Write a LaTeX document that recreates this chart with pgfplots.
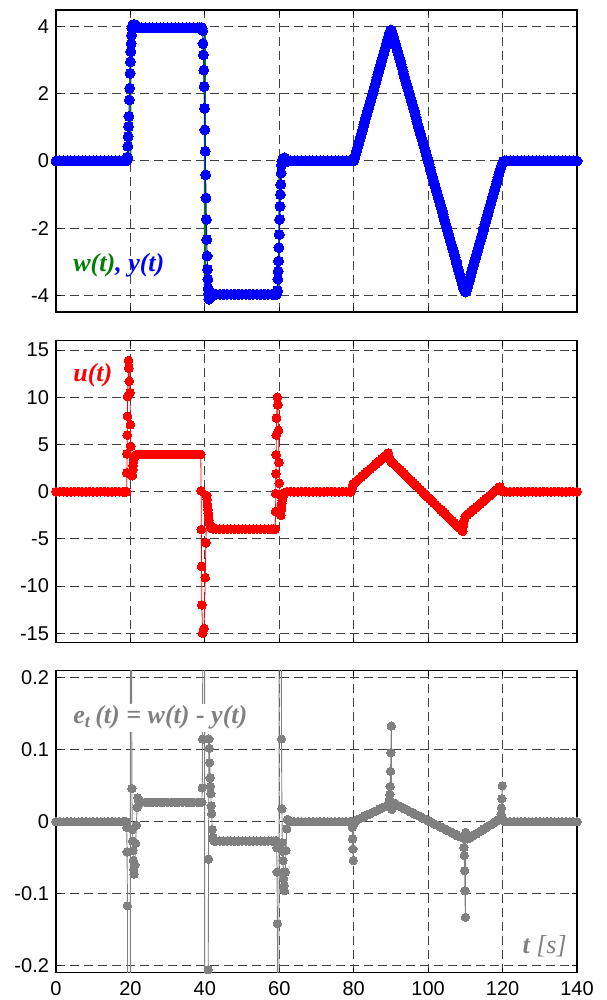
\documentclass[border=0pt]{standalone}
\usepackage{fontspec}
\setmainfont{Liberation Sans}
\newfontfamily\labfont{Liberation Serif}
\usepackage{pgfplots}
\pgfplotsset{compat=1.18}

\definecolor{mblue}{RGB}{0,0,255}
\definecolor{mred}{RGB}{255,0,0}
\definecolor{mgreen}{RGB}{0,128,0}
\definecolor{mgray}{RGB}{128,128,128}

\pgfplotsset{
  panel/.style={
    scale only axis, width=260.5pt, height=151pt,
    anchor=south west,
    xmin=0, xmax=140, xtick={0,20,40,60,80,100,120,140},
    grid=major,
    major grid style={black!75, line width=0.5pt, dash pattern=on 4.5pt off 2.5pt},
    axis line style={line width=0.7pt},
    tick align=inside, major tick length=2.5pt,
    tick style={black, line width=0.5pt},
    tick label style={font=\fontsize{10}{12}\selectfont},
    xticklabel style={yshift=-1pt},
  },
}
\tikzset{lab/.style={font=\labfont\fontsize{13}{15}\selectfont\bfseries\itshape, inner sep=0pt}}

\begin{document}
\begin{tikzpicture}
\path[use as bounding box] (0,0) rectangle (303pt,500pt);

% ---------- top: w(t), y(t)
\begin{axis}[panel, at={(28pt,344pt)},
  ymin=-4.5, ymax=4.5, ytick={-4,-2,0,2,4}, yticklabels={-4,-2,0,2,4},
  xticklabels={}, clip mode=individual]
\addplot[mgreen, line width=0.9pt, no marks] coordinates {
(0,0)(20,0)(20,4)(40,4)(40,-4)(60,-4)(60,0)(80,0)(90,4)(110,-4)(120,0)(140,0)};
\addplot[mblue, line width=0.5pt, mark=*, mark size=2.5pt, mark options={fill=mblue, draw=mblue, line width=0pt}] coordinates {
(0,0)(1,0)(2,0)(3,0)(4,0)(5,0)(6,0)(7,0)(8,0)(9,0)(10,0)(11,0)(12,0)(13,0)(14,0)(15,0)(16,0)(17,0)(18,0)(18.5,0)
(19.0,0.008)(19.1,0.042)(19.2,0.117)(19.3,0.44)(19.4,0.73)(19.5,1.03)(19.6,1.33)(19.7,1.82)(19.8,2.17)(19.9,2.61)
(20.0,2.96)(20.1,3.26)(20.2,3.50)(20.3,3.75)(20.4,3.954)(20.5,4.011)(20.6,4.027)(20.7,4.040)(20.8,4.054)(20.9,4.066)
(21.0,4.073)(21.2,4.060)(21.4,4.030)(21.6,4.005)(21.8,3.980)(22.0,3.967)(22.3,3.972)
(23,3.973)(24,3.973)(25,3.973)(26,3.973)(27,3.973)(28,3.973)(29,3.973)(30,3.973)(31,3.973)(32,3.973)
(33,3.973)(34,3.973)(35,3.973)(36,3.973)(37,3.973)(38,3.973)(38.5,3.973)(39.0,3.973)
(39.2,3.973)(39.3,3.953)(39.4,3.885)(39.5,3.50)(39.6,3.16)(39.7,2.71)(39.8,2.22)(39.9,1.57)
(40.0,0.93)(40.1,0.29)(40.2,-0.41)(40.3,-1.10)(40.4,-1.74)(40.5,-2.34)(40.6,-2.83)(40.7,-3.23)(40.8,-3.52)(40.9,-3.794)
(41.0,-3.948)(41.1,-4.115)(41.2,-4.102)(41.3,-4.082)(41.4,-4.061)(41.5,-4.049)(41.6,-4.039)(41.7,-4.022)(41.8,-4.011)
(42.0,-3.989)(42.2,-3.978)(42.5,-3.973)
(43,-3.973)(44,-3.973)(45,-3.973)(46,-3.973)(47,-3.973)(48,-3.973)(49,-3.973)(50,-3.973)(51,-3.973)(52,-3.973)
(53,-3.973)(54,-3.973)(55,-3.973)(56,-3.973)(57,-3.973)(58,-3.973)(58.5,-3.973)(59.0,-3.973)
(59.2,-3.973)(59.3,-3.964)(59.4,-3.930)(59.5,-3.858)(59.6,-3.52)(59.7,-3.28)(59.8,-2.98)(59.9,-2.58)
(60.0,-2.19)(60.1,-1.74)(60.2,-1.35)(60.3,-1.00)(60.4,-0.70)(60.5,-0.36)(60.6,-0.115)(60.7,-0.018)(60.8,0.029)(60.9,0.041)
(61.0,0.054)(61.1,0.070)(61.2,0.079)(61.3,0.089)(61.4,0.096)(61.6,0.070)(61.8,0.040)(62.0,0.010)(62.2,-0.003)(62.5,-0.002)
(63,0)(64,0)(65,0)(66,0)(67,0)(68,0)(69,0)(70,0)(71,0)(72,0)(73,0)(74,0)(75,0)(76,0)(77,0)(78,0)(79,0)(79.5,0)
(79.6,0.008)(79.7,0.024)(79.8,0.038)(79.9,0.054)(80,0.003)
(80.25,0.10)(80.5,0.20)(80.75,0.30)(81,0.40)(81.25,0.50)(81.5,0.60)(81.75,0.70)(82,0.80)(82.25,0.89)(82.5,0.99)
(82.75,1.09)(83,1.19)(83.25,1.29)(83.5,1.39)(83.75,1.49)(84,1.59)(84.25,1.69)(84.5,1.79)(84.75,1.89)(85,1.99)
(85.25,2.09)(85.5,2.19)(85.75,2.29)(86,2.39)(86.25,2.48)(86.5,2.58)(86.75,2.68)(87,2.78)(87.25,2.88)(87.5,2.98)
(87.75,3.08)(88,3.18)(88.25,3.28)(88.5,3.38)(88.75,3.48)(89,3.58)(89.25,3.68)(89.5,3.78)
(89.75,3.86)(90,3.90)(90.25,3.87)(90.5,3.77)
(90.75,3.68)(91,3.58)(91.25,3.48)(91.5,3.38)(91.75,3.28)(92,3.18)(92.25,3.08)(92.5,2.98)(92.75,2.88)(93,2.78)
(93.25,2.68)(93.5,2.58)(93.75,2.48)(94,2.38)(94.25,2.28)(94.5,2.19)(94.75,2.09)(95,1.99)(95.25,1.89)(95.5,1.79)
(95.75,1.69)(96,1.59)(96.25,1.49)(96.5,1.39)(96.75,1.29)(97,1.19)(97.25,1.09)(97.5,0.99)(97.75,0.89)(98,0.79)
(98.25,0.69)(98.5,0.60)(98.75,0.50)(99,0.40)(99.25,0.30)(99.5,0.20)(99.75,0.10)(100,0.00)
(100.25,-0.10)(100.5,-0.20)(100.75,-0.30)(101,-0.40)(101.25,-0.50)(101.5,-0.60)(101.75,-0.70)(102,-0.80)(102.25,-0.89)(102.5,-0.99)
(102.75,-1.09)(103,-1.19)(103.25,-1.29)(103.5,-1.39)(103.75,-1.49)(104,-1.59)(104.25,-1.69)(104.5,-1.79)(104.75,-1.89)(105,-1.99)
(105.25,-2.09)(105.5,-2.19)(105.75,-2.29)(106,-2.39)(106.25,-2.49)(106.5,-2.58)(106.75,-2.68)(107,-2.78)(107.25,-2.88)(107.5,-2.98)
(107.75,-3.08)(108,-3.18)(108.25,-3.28)(108.5,-3.38)(108.75,-3.48)(109,-3.58)(109.25,-3.68)
(109.5,-3.78)(109.75,-3.84)(110,-3.90)(110.25,-3.88)
(110.5,-3.78)(110.75,-3.68)(111,-3.58)(111.25,-3.48)(111.5,-3.38)(111.75,-3.28)(112,-3.18)(112.25,-3.08)(112.5,-2.98)(112.75,-2.88)
(113,-2.78)(113.25,-2.68)(113.5,-2.58)(113.75,-2.48)(114,-2.39)(114.25,-2.29)(114.5,-2.19)(114.75,-2.09)(115,-1.99)(115.25,-1.89)
(115.5,-1.79)(115.75,-1.69)(116,-1.59)(116.25,-1.49)(116.5,-1.39)(116.75,-1.29)(117,-1.19)(117.25,-1.09)(117.5,-0.99)(117.75,-0.89)
(118,-0.79)(118.25,-0.70)(118.5,-0.60)(118.75,-0.50)(119,-0.40)(119.25,-0.30)
(119.5,-0.21)(119.75,-0.12)(120,-0.05)(120.25,-0.005)(120.5,0)
(121,0)(122,0)(123,0)(124,0)(125,0)(126,0)(127,0)(128,0)(129,0)(130,0)(131,0)(132,0)(133,0)(134,0)(135,0)
(136,0)(137,0)(138,0)(139,0)(140,0)};
\node[lab, anchor=west] at (rel axis cs:0.0326,0.156)
  {\textcolor{mgreen}{w(t)}\textcolor{mblue}{, y(t)}};
\end{axis}

% ---------- middle: u(t)
\begin{axis}[panel, at={(28pt,178.65pt)},
  ymin=-16, ymax=16, ytick={-15,-10,-5,0,5,10,15}, yticklabels={-15,-10,-5,0,5,10,15},
  xticklabels={}, clip mode=individual]
\addplot[mred, line width=0.4pt, mark=*, mark size=2.2pt, mark options={fill=mred, draw=mred, line width=0pt}] coordinates {
(0,0)(1,0)(2,0)(3,0)(4,0)(5,0)(6,0)(7,0)(8,0)(9,0)(10,0)(11,0)(12,0)(13,0)(14,0)(15,0)(16,0)(17,0)(18,0)(18.5,0)(19,0)
(19.05,2.0)(19.1,4.0)(19.15,6.0)(19.2,8.0)(19.25,10.1)(19.5,13.9)(19.6,13.1)(19.7,11.7)(19.9,10.5)(20.0,7.1)(20.1,4.8)
(20.3,2.0)(20.5,1.7)(20.6,2.3)(20.7,2.8)(20.8,3.2)(20.9,3.5)(21.0,3.7)(21.3,3.85)(21.7,3.92)(22,3.95)
(23,3.95)(24,3.95)(25,3.95)(26,3.95)(27,3.95)(28,3.95)(29,3.95)(30,3.95)(31,3.95)(32,3.95)(33,3.95)(34,3.95)
(35,3.95)(36,3.95)(37,3.95)(38,3.95)(38.5,3.95)(38.9,3.95)
(39.0,0.1)(39.05,-4.0)(39.1,-7.9)(39.2,-12.0)(39.4,-15.0)(39.8,-14.5)(40.1,-9.1)(40.3,-5.4)
(40.5,-0.4)(40.6,-0.8)(40.7,-1.4)(40.8,-1.9)(40.9,-2.3)(41.0,-2.7)(41.1,-3.0)(41.3,-3.4)(41.5,-3.7)(41.8,-3.9)(42.2,-3.95)
(43,-3.95)(44,-3.95)(45,-3.95)(46,-3.95)(47,-3.95)(48,-3.95)(49,-3.95)(50,-3.95)(51,-3.95)(52,-3.95)(53,-3.95)
(54,-3.95)(55,-3.95)(56,-3.95)(57,-3.95)(58,-3.95)(58.5,-3.95)(58.9,-3.95)
(59.0,-2.1)(59.05,-0.2)(59.1,1.9)(59.15,3.9)(59.2,6.0)(59.25,7.8)(59.5,10.0)(59.6,9.2)(59.8,6.5)(59.9,3.1)(60.0,0.9)
(60.2,-0.3)(60.3,-2.2)(60.4,-2.5)(60.5,-2.0)(60.6,-1.6)(60.7,-1.2)(60.8,-0.9)(60.9,-0.6)(61.0,-0.4)(61.2,-0.2)(61.5,-0.1)(62,0)
(63,0)(64,0)(65,0)(66,0)(67,0)(68,0)(69,0)(70,0)(71,0)(72,0)(73,0)(74,0)(75,0)(76,0)(77,0)(78,0)(79,0)(79.3,0)
(79.5,0.3)(79.7,0.7)(80,0.85)(80.5,1.03)(81,1.20)(81.5,1.38)(82,1.55)(82.5,1.73)(83,1.90)(83.5,2.08)(84,2.25)
(84.5,2.43)(85,2.60)(85.5,2.78)(86,2.95)(86.5,3.13)(87,3.30)(87.5,3.48)(88,3.65)(88.5,3.83)(89,4.00)(89.3,4.10)
(89.5,3.75)(89.7,3.40)(90,3.20)(90.5,3.06)(91,2.87)(91.5,2.67)(92,2.48)(92.5,2.29)(93,2.10)(93.5,1.90)(94,1.71)
(94.5,1.52)(95,1.33)(95.5,1.13)(96,0.94)(96.5,0.75)(97,0.56)(97.5,0.36)(98,0.17)(98.5,-0.02)(99,-0.22)(99.5,-0.41)
(100,-0.60)(100.5,-0.79)(101,-0.99)(101.5,-1.18)(102,-1.37)(102.5,-1.56)(103,-1.76)(103.5,-1.95)(104,-2.14)(104.5,-2.33)
(105,-2.53)(105.5,-2.72)(106,-2.91)(106.5,-3.10)(107,-3.30)(107.5,-3.49)(108,-3.68)(108.5,-3.87)(109,-4.07)(109.3,-4.18)
(109.5,-3.60)(109.7,-3.00)(110,-2.62)(110.5,-2.45)(111,-2.28)(111.5,-2.11)(112,-1.95)(112.5,-1.78)(113,-1.61)(113.5,-1.44)
(114,-1.28)(114.5,-1.11)(115,-0.94)(115.5,-0.77)(116,-0.60)(116.5,-0.44)(117,-0.27)(117.5,-0.10)(118,0.07)(118.5,0.23)
(119,0.40)(119.3,0.50)(119.5,0.35)(119.7,0.15)(120,0.03)(120.5,0)
(121,0)(122,0)(123,0)(124,0)(125,0)(126,0)(127,0)(128,0)(129,0)(130,0)(131,0)(132,0)(133,0)(134,0)(135,0)
(136,0)(137,0)(138,0)(139,0)(140,0)};
\node[lab, anchor=west, text=mred] at (rel axis cs:0.0326,0.886) {u(t)};
\end{axis}

% ---------- bottom: e_t(t)
\begin{axis}[panel, at={(28pt,13.65pt)},
  ymin=-0.21, ymax=0.21, ytick={-0.2,-0.1,0,0.1,0.2}, yticklabels={-0.2,-0.1,0,0.1,0.2},
  xticklabels={0,20,40,60,80,100,120,140}]
\addplot[mgray, line width=0.45pt, mark=*, mark size=2.1pt, mark options={fill=mgray, draw=mgray, line width=0pt}] coordinates {
(0,0)(1,0)(2,0)(3,0)(4,0)(5,0)(6,0)(7,0)(8,0)(9,0)(10,0)(11,0)(12,0)(13,0)(14,0)(15,0)(16,0)(17,0)(18,0)(18.5,0)(18.9,0)
(19.0,-0.008)(19.1,-0.042)(19.2,-0.117)(19.3,-0.44)(19.4,-0.73)(19.5,-1.03)(19.6,-1.33)(19.7,-1.82)(19.8,-2.17)(19.9,-2.61)
(20.0,1.04)(20.1,0.74)(20.2,0.50)(20.3,0.25)(20.4,0.046)(20.5,-0.011)(20.6,-0.027)(20.7,-0.040)(20.8,-0.054)(20.9,-0.066)
(21.0,-0.073)(21.2,-0.060)(21.4,-0.030)(21.6,-0.005)(21.8,0.020)(22.0,0.033)(22.3,0.028)
(23,0.027)(24,0.027)(25,0.027)(26,0.027)(27,0.027)(28,0.027)(29,0.027)(30,0.027)(31,0.027)(32,0.027)(33,0.027)
(34,0.027)(35,0.027)(36,0.027)(37,0.027)(38,0.027)(38.5,0.027)(39.0,0.027)
(39.2,0.027)(39.3,0.047)(39.4,0.115)(39.5,0.50)(39.6,0.84)(39.7,1.29)(39.8,1.78)(39.9,2.43)
(40.0,-4.93)(40.1,-4.29)(40.2,-3.59)(40.3,-2.90)(40.4,-2.26)(40.5,-1.66)(40.6,-1.17)(40.7,-0.77)(40.8,-0.48)(40.9,-0.206)
(41.0,-0.052)(41.1,0.115)(41.2,0.102)(41.3,0.082)(41.4,0.061)(41.5,0.049)(41.6,0.039)(41.7,0.022)(41.8,0.011)
(42.0,-0.011)(42.2,-0.022)(42.5,-0.027)
(43,-0.027)(44,-0.027)(45,-0.027)(46,-0.027)(47,-0.027)(48,-0.027)(49,-0.027)(50,-0.027)(51,-0.027)(52,-0.027)
(53,-0.027)(54,-0.027)(55,-0.027)(56,-0.027)(57,-0.027)(58,-0.027)(58.5,-0.027)(59.0,-0.027)
(59.2,-0.027)(59.3,-0.036)(59.4,-0.070)(59.5,-0.142)(59.6,-0.48)(59.7,-0.72)(59.8,-1.02)(59.9,-1.42)
(60.0,2.19)(60.1,1.74)(60.2,1.35)(60.3,1.00)(60.4,0.70)(60.5,0.36)(60.6,0.115)(60.7,0.018)(60.8,-0.029)(60.9,-0.041)
(61.0,-0.054)(61.1,-0.070)(61.2,-0.079)(61.3,-0.089)(61.4,-0.096)(61.6,-0.070)(61.8,-0.040)(62.0,-0.010)(62.2,0.003)(62.5,0.002)
(63,0)(64,0)(65,0)(66,0)(67,0)(68,0)(69,0)(70,0)(71,0)(72,0)(73,0)(74,0)(75,0)(76,0)(77,0)(78,0)(79,0)(79.5,0)
(79.6,-0.008)(79.7,-0.024)(79.8,-0.038)(79.9,-0.054)(80,-0.003)
(80.5,0.001)(81,0.003)(81.5,0.004)(82,0.005)(82.5,0.006)(83,0.008)(83.5,0.009)(84,0.010)(84.5,0.011)(85,0.013)
(85.5,0.014)(86,0.015)(86.5,0.016)(87,0.018)(87.5,0.019)(88,0.020)(88.5,0.021)(89,0.023)(89.5,0.024)
(89.6,0.031)(89.7,0.038)(89.8,0.049)(89.9,0.070)(90.0,0.096)(90.1,0.133)(90.2,0.017)(90.4,0.022)(90.7,0.026)
(91,0.025)(91.5,0.023)(92,0.022)(92.5,0.021)(93,0.020)(93.5,0.018)(94,0.017)(94.5,0.016)(95,0.014)(95.5,0.013)
(96,0.012)(96.5,0.010)(97,0.009)(97.5,0.008)(98,0.007)(98.5,0.005)(99,0.004)(99.5,0.003)(100,0.001)(100.5,0)
(101,-0.001)(101.5,-0.003)(102,-0.004)(102.5,-0.005)(103,-0.007)(103.5,-0.008)(104,-0.009)(104.5,-0.010)(105,-0.012)
(105.5,-0.013)(106,-0.014)(106.5,-0.016)(107,-0.017)(107.5,-0.018)(108,-0.020)(108.5,-0.021)(109,-0.022)(109.5,-0.023)
(109.6,-0.036)(109.7,-0.047)(109.8,-0.068)(109.9,-0.096)(110.0,-0.133)(110.1,-0.015)(110.3,-0.020)(110.6,-0.024)
(111,-0.023)(111.5,-0.021)(112,-0.020)(112.5,-0.018)(113,-0.017)(113.5,-0.015)(114,-0.013)(114.5,-0.012)(115,-0.010)
(115.5,-0.009)(116,-0.007)(116.5,-0.005)(117,-0.004)(117.5,-0.002)(118,0)(118.5,0.001)(119,0.003)(119.5,0.004)
(119.6,0.010)(119.7,0.019)(119.8,0.032)(119.9,0.050)(120.0,0.005)(120.3,0.002)(120.6,0)
(121,0)(122,0)(123,0)(124,0)(125,0)(126,0)(127,0)(128,0)(129,0)(130,0)(131,0)(132,0)(133,0)(134,0)(135,0)
(136,0)(137,0)(138,0)(139,0)(140,0)};
\node[lab, anchor=west, text=mgray, fill=white, inner sep=1pt] at (rel axis cs:0.0288,0.844)
  {e\textsubscript{t}\,(t) = w(t) - y(t)};
\node[lab, anchor=east, text=mgray] at (rel axis cs:0.981,0.088)
  {t {\mdseries[\textit{s}]}};
\end{axis}
\end{tikzpicture}
\end{document}
